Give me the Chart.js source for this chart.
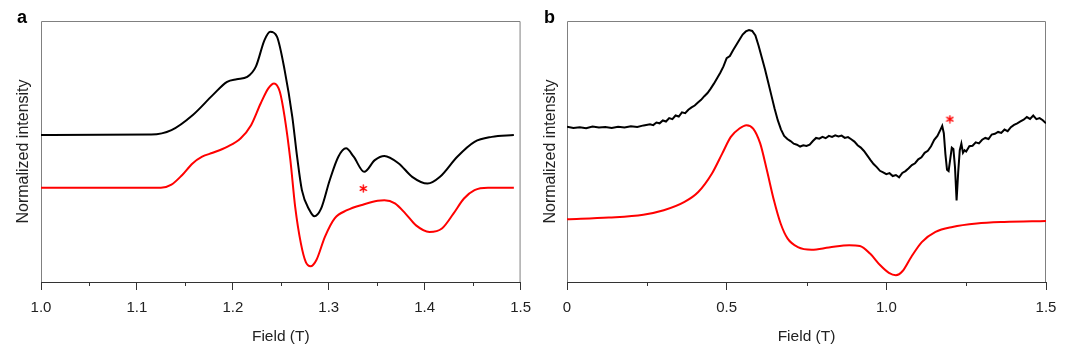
<!DOCTYPE html>
<html>
<head>
<meta charset="utf-8">
<script src="https://cdn.jsdelivr.net/npm/chart.js@4.4.1/dist/chart.umd.min.js"></script>
<style>
  html, body { margin:0; padding:0; background:#fff; }
  body { width:1080px; height:363px; position:relative; overflow:hidden; font-family:"Liberation Sans", Arial, sans-serif; }
  .panel { position:absolute; top:0; width:540px; height:363px; }
  .lbl { position:absolute; top:8px; font:bold 18px "Liberation Sans", Arial, sans-serif; line-height:18px; color:#000; }
</style>
</head>
<body>
<div class="panel" style="left:0"><canvas id="ca" width="540" height="363"></canvas></div>
<div class="panel" style="left:540px"><canvas id="cb" width="540" height="363"></canvas></div>
<div class="lbl" style="left:17px">a</div>
<div class="lbl" style="left:544px">b</div>
<script>
// ---------- Panel a data ----------
const fieldA_black = [1.000,1.115,1.136,1.158,1.179,1.194,1.204,1.215,1.224,1.233,1.239,1.246,1.254,1.262,1.267,1.272,1.280,1.285,1.292,1.301,1.310,1.318,1.326,1.337,1.348,1.358,1.373,1.387,1.403,1.416,1.434,1.452,1.470,1.493];
const intA_black   = [0.563,0.565,0.582,0.639,0.716,0.767,0.777,0.786,0.825,0.927,0.959,0.940,0.812,0.633,0.480,0.352,0.275,0.252,0.281,0.390,0.480,0.512,0.480,0.422,0.467,0.483,0.454,0.403,0.377,0.403,0.480,0.537,0.556,0.563];
const fieldA_red = [1.000,1.125,1.136,1.147,1.158,1.168,1.179,1.194,1.208,1.219,1.229,1.237,1.243,1.249,1.254,1.260,1.265,1.271,1.276,1.281,1.287,1.296,1.306,1.319,1.337,1.351,1.358,1.369,1.380,1.391,1.405,1.418,1.430,1.441,1.452,1.466,1.493];
const intA_red   = [0.361,0.361,0.373,0.409,0.454,0.480,0.495,0.518,0.550,0.601,0.684,0.742,0.761,0.729,0.633,0.467,0.288,0.147,0.077,0.060,0.083,0.173,0.243,0.275,0.298,0.311,0.313,0.301,0.262,0.217,0.192,0.205,0.262,0.320,0.352,0.361,0.361];
const starA_field = [1.336];
const starA_int   = [0.358];
const tickValsA   = [1.0,1.05,1.1,1.15,1.2,1.25,1.3,1.35,1.4,1.45,1.5];
const tickLabelsA = ['1.0','','1.1','','1.2','','1.3','','1.4','','1.5'];

// ---------- Panel b data ----------
const fieldB_black = [0.00,0.02,0.04,0.06,0.08,0.10,0.12,0.14,0.16,0.18,0.20,0.22,0.24,0.26,0.27,0.28,0.29,0.30,0.31,0.32,0.33,0.34,0.35,0.36,0.37,0.38,0.39,0.40,0.41,0.42,0.43,0.44,0.45,0.46,0.47,0.48,0.49,0.50,0.51,0.52,0.53,0.54,0.55,0.56,0.57,0.58,0.59,0.60,0.61,0.62,0.63,0.64,0.65,0.66,0.67,0.68,0.69,0.70,0.71,0.72,0.73,0.74,0.75,0.76,0.77,0.78,0.79,0.80,0.81,0.82,0.83,0.84,0.85,0.86,0.87,0.88,0.89,0.90,0.91,0.92,0.93,0.94,0.95,0.96,0.97,0.98,0.99,1.00,1.01,1.02,1.03,1.04,1.05,1.06,1.07,1.08,1.09,1.10,1.11,1.12,1.13,1.14,1.15,1.16,1.17,1.175,1.18,1.185,1.19,1.195,1.20,1.205,1.21,1.215,1.22,1.225,1.23,1.235,1.24,1.245,1.25,1.26,1.27,1.28,1.29,1.30,1.31,1.32,1.33,1.34,1.35,1.36,1.37,1.38,1.39,1.40,1.41,1.42,1.43,1.44,1.45,1.46,1.47,1.48,1.49,1.50];
const intB_black   = [0.595,0.590,0.593,0.589,0.596,0.592,0.594,0.590,0.595,0.592,0.597,0.594,0.600,0.604,0.601,0.611,0.608,0.619,0.615,0.628,0.624,0.638,0.634,0.650,0.647,0.660,0.669,0.676,0.688,0.698,0.712,0.724,0.741,0.760,0.781,0.802,0.826,0.858,0.866,0.888,0.908,0.928,0.948,0.960,0.965,0.962,0.945,0.905,0.860,0.815,0.765,0.715,0.665,0.620,0.585,0.560,0.548,0.540,0.530,0.526,0.519,0.524,0.521,0.526,0.540,0.552,0.549,0.556,0.551,0.560,0.556,0.562,0.558,0.561,0.552,0.555,0.547,0.538,0.524,0.515,0.502,0.485,0.468,0.452,0.440,0.426,0.420,0.413,0.417,0.406,0.410,0.401,0.418,0.425,0.436,0.448,0.455,0.470,0.478,0.495,0.503,0.520,0.545,0.560,0.585,0.598,0.570,0.490,0.430,0.425,0.470,0.515,0.510,0.440,0.312,0.420,0.505,0.530,0.495,0.505,0.500,0.520,0.522,0.535,0.531,0.545,0.552,0.548,0.565,0.568,0.575,0.571,0.584,0.578,0.593,0.602,0.608,0.615,0.622,0.632,0.625,0.638,0.624,0.628,0.620,0.608];
const fieldB_red = [0.000,0.131,0.239,0.303,0.368,0.411,0.454,0.486,0.513,0.540,0.562,0.583,0.605,0.626,0.648,0.669,0.691,0.723,0.766,0.820,0.884,0.917,0.949,0.981,1.008,1.030,1.051,1.078,1.111,1.154,1.207,1.283,1.369,1.500];
const intB_red   = [0.240,0.247,0.258,0.275,0.307,0.345,0.416,0.492,0.556,0.588,0.601,0.588,0.531,0.428,0.313,0.224,0.166,0.134,0.124,0.132,0.141,0.138,0.109,0.064,0.035,0.026,0.042,0.096,0.153,0.192,0.211,0.224,0.230,0.234];
const starB_field = [1.199];
const starB_int   = [0.624];
const tickValsB   = [0,0.25,0.5,0.75,1.0,1.25,1.5];
const tickLabelsB = ['0','','0.5','','1.0','','1.5'];

// ---------- helpers ----------
const zip = (xs, ys) => xs.map((x, i) => ({x, y: ys[i]}));
const FONT = '"Liberation Sans", Arial, sans-serif';

// six-armed asterisk marker
function asteriskMarker() {
  const c = document.createElement('canvas');
  c.width = 9; c.height = 9;
  const g = c.getContext('2d');
  g.strokeStyle = '#ff0000';
  g.lineWidth = 1.4;
  g.lineCap = 'round';
  const r = 3.6, cx = 4.5, cy = 4.5;
  for (let k = 0; k < 3; k++) {
    const ang = Math.PI / 2 + k * Math.PI / 3;
    g.beginPath();
    g.moveTo(cx + r * Math.cos(ang), cy + r * Math.sin(ang));
    g.lineTo(cx - r * Math.cos(ang), cy - r * Math.sin(ang));
    g.stroke();
  }
  return c;
}
const STAR = asteriskMarker();

const framePlugin = {
  id: 'frame',
  beforeDatasetsDraw(chart) {
    const {ctx, chartArea: a} = chart;
    ctx.save();
    ctx.strokeStyle = '#808080';
    ctx.lineWidth = 1;
    ctx.beginPath();
    ctx.moveTo(a.left + 0.5, a.bottom);
    ctx.lineTo(a.left + 0.5, a.top + 0.5);
    ctx.lineTo(a.right - 0.5, a.top + 0.5);
    ctx.lineTo(a.right - 0.5, a.bottom);
    ctx.stroke();
    ctx.restore();
  },
  afterDraw(chart) {
    const {ctx, chartArea: a, scales: {x}} = chart;
    const labels = chart.options.plugins.frame.labels;
    const vals = chart.options.plugins.frame.values;
    ctx.save();
    ctx.strokeStyle = '#333';
    ctx.lineWidth = 1;
    vals.forEach((v, i) => {
      if (labels[i] !== '') return;
      const px = Math.round(x.getPixelForValue(v)) + 0.5;
      ctx.beginPath();
      ctx.moveTo(px, a.bottom);
      ctx.lineTo(px, a.bottom + 4);
      ctx.stroke();
    });
    ctx.restore();
  }
};

function makeChart(id, cfg) {
  const datasets = [
    {data: zip(cfg.bx, cfg.by), borderColor:'#000', borderWidth:2, pointRadius:0,
     cubicInterpolationMode: cfg.smoothBlack ? 'monotone' : 'default', tension:0},
    {data: zip(cfg.rx, cfg.ry), borderColor:'#ff0000', borderWidth:2, pointRadius:0,
     cubicInterpolationMode:'monotone'},
    {data: zip(cfg.sx, cfg.sy), showLine:false, pointStyle:STAR, pointRadius:4,
     borderColor:'#ff0000', backgroundColor:'#ff0000', borderWidth:0}
  ];
  return new Chart(document.getElementById(id), {
    type:'line',
    data:{datasets},
    options:{
      responsive:false, animation:false, events:[],
      layout:{padding:{left:0, right:cfg.padRight, top:21, bottom:0}},
      plugins:{legend:{display:false}, tooltip:{enabled:false},
               frame:{values:cfg.tickVals, labels:cfg.tickLabels}},
      scales:{
        x:{
          type:'linear', min:cfg.min, max:cfg.max,
          afterBuildTicks: s => { s.ticks = cfg.tickVals.map(v => ({value:v})); },
          afterFit: s => { s.height = 81; },
          ticks:{autoSkip:false, maxRotation:0, padding:9, color:'#222',
                 font:{family:FONT, size:15},
                 callback:(v, i) => cfg.tickLabels[i]},
          grid:{drawOnChartArea:false, tickLength:8, tickWidth:1,
                tickColor: c => (cfg.tickLabels[c.index] === '' ? 'rgba(0,0,0,0)' : '#333')},
          border:{display:true, color:'#333', width:1},
          title:{display:true, text:'Field (T)', color:'#222',
                 font:{family:FONT, size:15.5}, padding:{top:0, bottom:17}}
        },
        y:{
          min:0, max:1,
          afterFit: s => { s.width = cfg.yWidth; },
          ticks:{display:false},
          grid:{display:false},
          border:{display:false},
          title:{display:true, text:'Normalized intensity', color:'#222',
                 font:{family:FONT, size:16}, padding:{top:cfg.yTitlePad, bottom:0}}
        }
      }
    },
    plugins:[framePlugin]
  });
}

makeChart('ca', {bx:fieldA_black, by:intA_black, rx:fieldA_red, ry:intA_red,
  sx:starA_field, sy:starA_int, tickVals:tickValsA, tickLabels:tickLabelsA,
  min:1.0, max:1.5, padRight:19, yWidth:41, yTitlePad:14, smoothBlack:true});
makeChart('cb', {bx:fieldB_black, by:intB_black, rx:fieldB_red, ry:intB_red,
  sx:starB_field, sy:starB_int, tickVals:tickValsB, tickLabels:tickLabelsB,
  min:0, max:1.5, padRight:34, yWidth:27, yTitlePad:0.5, smoothBlack:false});
</script>
</body>
</html>
